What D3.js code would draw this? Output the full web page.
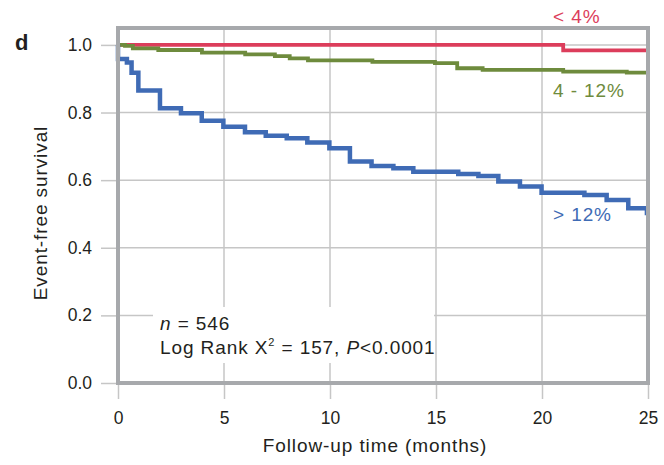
<!DOCTYPE html>
<html><head><meta charset="utf-8">
<script src="https://cdn.jsdelivr.net/npm/d3@7"></script>
<style>body{margin:0;background:#fff}svg{display:block;font-family:"Liberation Sans",Arial,sans-serif}</style>
</head><body><svg id="c" width="664" height="465"></svg>
<script>
const xTicks = [0,5,10,15,20,25];
const yTicks = [0.0,0.2,0.4,0.6,0.8,1.0];
const seriesNames = ["< 4%","4 - 12%","> 12%"];
const lowTimes = [0,21,25];
const lowSurv  = [1.0,0.984,0.984];
const midTimes = [0,0.33,0.7,1.9,3.96,6.0,7.4,8.1,8.96,12.0,14.95,16.0,17.2,21.0,24.0,25];
const midSurv  = [1.0,0.997,0.99,0.985,0.977,0.972,0.967,0.96,0.954,0.95,0.946,0.931,0.926,0.921,0.918,0.918];
const highTimes = [0,0,0.42,0.64,0.96,1.98,2.97,3.95,4.97,5.99,6.97,7.96,8.93,9.97,10.94,11.96,12.99,13.93,16.05,17.0,17.94,18.96,19.98,22.0,23.05,24.07,24.95,25];
const highSurv  = [1.0,0.958,0.948,0.918,0.865,0.813,0.798,0.776,0.758,0.742,0.731,0.724,0.711,0.694,0.655,0.642,0.635,0.625,0.618,0.612,0.596,0.581,0.563,0.556,0.541,0.517,0.503,0.503];
const colors = ["#dc3d5b","#6e8b3d","#3f6bb5"];

const svg = d3.select("#c");
const x = d3.scaleLinear().domain([0,25]).range([118,648]);
const y = d3.scaleLinear().domain([0,1.05]).range([383,28]);
const gridC = "#c6c6c6", frameC = "#a7a9ac", textC = "#231f20";
const FS = 19, LS = "0.9px";

// grid
svg.append("g").selectAll("line").data(xTicks.slice(1,-1)).join("line")
  .attr("x1",d=>x(d)).attr("x2",d=>x(d)).attr("y1",y(1.05)).attr("y2",y(0))
  .attr("stroke",gridC).attr("stroke-width",1.5);
svg.append("g").selectAll("line").data(yTicks.slice(1)).join("line")
  .attr("x1",x(0)).attr("x2",x(25)).attr("y1",d=>y(d)).attr("y2",d=>y(d))
  .attr("stroke",gridC).attr("stroke-width",1.5);

// axes
const yAx = svg.append("g").attr("transform",`translate(${x(0)-1},0)`)
  .call(d3.axisLeft(y).tickValues(yTicks).tickFormat(d3.format(".1f")).tickSize(16).tickPadding(9));
const xAx = svg.append("g").attr("transform",`translate(0,${y(0)+1})`)
  .call(d3.axisBottom(x).tickValues(xTicks).tickFormat(d3.format("d")).tickSize(15).tickPadding(13));
[yAx,xAx].forEach(a=>{
  a.select(".domain").remove();
  a.selectAll("line").attr("stroke",gridC).attr("stroke-width",1.5);
  a.selectAll("text").attr("font-size",17.5).attr("fill",textC).attr("font-family","Liberation Sans, Arial, sans-serif");
});
xAx.selectAll("text").attr("dy","0.71em");

// annotation box
svg.append("rect").attr("x",153).attr("y",307).attr("width",281).attr("height",56).attr("fill","#fff");
const t1 = svg.append("text").attr("x",160).attr("y",330).attr("font-size",FS).attr("letter-spacing",LS).attr("fill",textC);
t1.append("tspan").attr("font-style","italic").text("n");
t1.append("tspan").text(" = 546");
const t2 = svg.append("text").attr("x",160).attr("y",354).attr("font-size",FS).attr("letter-spacing",LS).attr("fill",textC);
t2.append("tspan").text("Log Rank X");
t2.append("tspan").attr("font-size",11).attr("dy",-8).text("2");
t2.append("tspan").attr("dy",8).text(" = 157, ");
t2.append("tspan").attr("font-style","italic").text("P");
t2.append("tspan").text("<0.0001");

// curves
const line = d3.line().x(d=>x(d[0])).y(d=>y(d[1])).curve(d3.curveStepAfter);
const series = [
  d3.zip(lowTimes, lowSurv),
  d3.zip(midTimes, midSurv),
  d3.zip(highTimes, highSurv)
];
[0,1,2].forEach(i=>{
  svg.append("path").datum(series[i]).attr("d",line).attr("fill","none")
    .attr("stroke",colors[i]).attr("stroke-width",i===2?4.5:3.8).attr("stroke-linejoin","miter");
});

// frame
svg.append("rect").attr("x",x(0)).attr("y",y(1.05)).attr("width",x(25)-x(0)).attr("height",y(0)-y(1.05))
  .attr("fill","none").attr("stroke",frameC).attr("stroke-width",4);

// series labels
const labY = [23, 97, 221];
seriesNames.forEach((n,i)=>{
  svg.append("text").attr("x",553).attr("y",labY[i]).attr("font-size",FS).attr("letter-spacing",LS).attr("fill",colors[i]).text(n);
});

// titles
svg.append("text").attr("x",375).attr("y",452).attr("text-anchor","middle").attr("font-size",FS).attr("letter-spacing",LS).attr("fill",textC).text("Follow-up time (months)");
svg.append("text").attr("transform","translate(47,213) rotate(-90)").attr("text-anchor","middle").attr("font-size",FS).attr("letter-spacing",LS).attr("fill",textC).text("Event-free survival");
svg.append("text").attr("x",15).attr("y",50).attr("font-size",22).attr("font-weight","bold").attr("fill",textC).text("d");
</script></body></html>
